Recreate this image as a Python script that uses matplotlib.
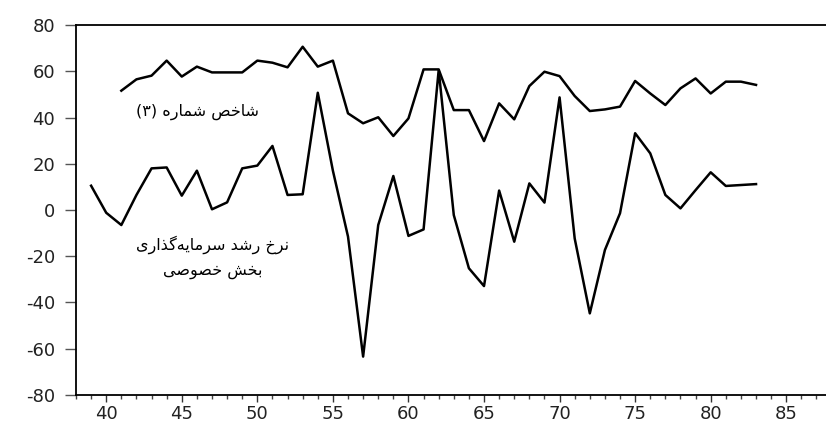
import matplotlib
matplotlib.use("Agg")
import matplotlib.pyplot as plt
from matplotlib import font_manager
from matplotlib.ft2font import FT2Font
from matplotlib.ticker import MultipleLocator

# index no. 3 (1341-1383)
years_idx = list(range(41, 84))
index3 = [51.6, 56.5, 58.1, 64.6, 57.7, 62.0, 59.5, 59.5, 59.5, 64.6,
          63.7, 61.7, 70.6, 62.0, 64.6, 41.8, 37.5, 40.1, 32.0, 39.6,
          60.8, 60.8, 43.2, 43.2, 29.8, 46.1, 39.2, 53.6, 59.8, 57.9,
          49.3, 42.8, 43.5, 44.7, 55.8, 50.4, 45.4, 52.6, 56.9, 50.4,
          55.5, 55.5, 54.1]

# private investment growth rate (1339-1383)
years_inv = list(range(39, 84))
invest = [10.5, -1.2, -6.5, 6.5, 18.0, 18.4, 6.2, 17.0, 0.3, 3.3,
          18.0, 19.2, 27.7, 6.5, 6.8, 50.7, 17.0, -11.5, -63.4, -6.5,
          14.7, -11.2, -8.4, 60.5, -2.2, -25.2, -32.9, 8.4, -13.7, 11.5,
          3.2, 48.7, -12.3, -44.7, -17.3, -1.4, 33.2, 24.5, 6.5, 0.7,
          8.6, 16.3, 10.4, 10.8, 11.2]

label_index = "شاخص شماره (۳)"
label_inv = ["نرخ رشد سرمایه‌گذاری", "بخش خصوصی"]

y_ticks = [-80, -60, -40, -20, 0, 20, 40, 60, 80]


# matplotlib has no arabic shaping, so pick the presentation forms by hand
FORMS = {
    'ا': ('\uFE8D', '\uFE8E', None, None),
    'ب': ('\uFE8F', '\uFE90', '\uFE91', '\uFE92'),
    'خ': ('\uFEA5', '\uFEA6', '\uFEA7', '\uFEA8'),
    'د': ('\uFEA9', '\uFEAA', None, None),
    'ذ': ('\uFEAB', '\uFEAC', None, None),
    'ر': ('\uFEAD', '\uFEAE', None, None),
    'س': ('\uFEB1', '\uFEB2', '\uFEB3', '\uFEB4'),
    'ش': ('\uFEB5', '\uFEB6', '\uFEB7', '\uFEB8'),
    'ص': ('\uFEB9', '\uFEBA', '\uFEBB', '\uFEBC'),
    'م': ('\uFEE1', '\uFEE2', '\uFEE3', '\uFEE4'),
    'ن': ('\uFEE5', '\uFEE6', '\uFEE7', '\uFEE8'),
    'ه': ('\uFEE9', '\uFEEA', '\uFEEB', '\uFEEC'),
    'و': ('\uFEED', '\uFEEE', None, None),
    'ی': ('\uFBFC', '\uFBFD', '\uFBFE', '\uFBFF'),
    'گ': ('\uFB92', '\uFB93', '\uFB94', '\uFB95'),
}
# same-looking arabic yeh forms, if farsi yeh forms are missing in the font
YEH_ALT = ('\uFEEF', '\uFEF0', '\uFEF3', '\uFEF4')

font_path = font_manager.findfont("DejaVu Sans")
charmap = FT2Font(font_path).get_charmap()
if not all(ord(c) in charmap for c in FORMS['ی']):
    FORMS['ی'] = YEH_ALT


def shape(text):
    chars = list(text)
    out = []
    for i, c in enumerate(chars):
        if c not in FORMS:
            if c != '\u200c':
                out.append(c)
            continue
        prev = chars[i - 1] if i > 0 else None
        nxt = chars[i + 1] if i + 1 < len(chars) else None
        join_prev = prev in FORMS and FORMS[prev][2] is not None
        join_next = FORMS[c][2] is not None and nxt in FORMS
        iso, fin, ini, med = FORMS[c]
        if join_prev and join_next:
            out.append(med)
        elif join_prev:
            out.append(fin)
        elif join_next:
            out.append(ini)
        else:
            out.append(iso)
    vis = ''.join(reversed(out))
    return vis.translate(str.maketrans('()', ')('))


plt.rcParams['font.family'] = ['DejaVu Sans']
plt.rcParams['axes.unicode_minus'] = False

fig = plt.figure(figsize=(8.26, 4.26), dpi=100)
ax = fig.add_axes([0.092, 0.0728, 0.908, 0.8685])

ax.plot(years_idx, index3, color='black', lw=1.8)
ax.plot(years_inv, invest, color='black', lw=1.8)

ax.set_xlim(38, 87.63)
ax.set_ylim(-80, 80)
ax.set_yticks(y_ticks)
ax.xaxis.set_major_locator(MultipleLocator(5))
ax.xaxis.set_minor_locator(MultipleLocator(1))
ax.tick_params(axis='y', length=8, width=1, color='#555', pad=7,
               labelsize=13, labelcolor='#222')
ax.tick_params(axis='x', which='major', length=5, width=1, color='#333',
               pad=2, labelsize=13, labelcolor='#222')
ax.tick_params(axis='x', which='minor', length=3, width=1, color='#444')
ax.spines['right'].set_visible(False)
for s in ['left', 'bottom', 'top']:
    ax.spines[s].set_linewidth(1.3)

ax.text(46.07, 42.4, shape(label_index), ha='center', va='center',
        fontsize=11.5)
ax.text(47.07, -15.1, shape(label_inv[0]), ha='center', va='center',
        fontsize=11.5)
ax.text(47.07, -26.8, shape(label_inv[1]), ha='center', va='center',
        fontsize=11.5)

fig.savefig("out.png", dpi=100)
